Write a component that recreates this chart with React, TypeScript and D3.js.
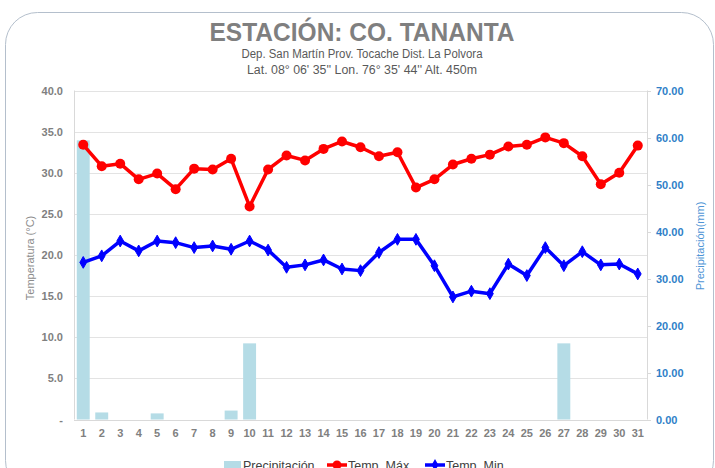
import React from "react";
import * as d3 from "d3";

const days = Array.from({ length: 31 }, (_, i) => String(i + 1));
const precip = [59.4, 1.5, 0, 0, 1.3, 0, 0, 0, 1.9, 16.2, 0, 0, 0, 0, 0, 0, 0, 0, 0, 0, 0, 0, 0, 0, 0, 0, 16.2, 0, 0, 0, 0];
const tmax = [33.4, 30.8, 31.1, 29.2, 29.9, 28.0, 30.5, 30.4, 31.7, 25.9, 30.4, 32.1, 31.5, 32.9, 33.8, 33.1, 32.0, 32.5, 28.2, 29.2, 31.0, 31.7, 32.2, 33.2, 33.4, 34.3, 33.6, 32.0, 28.6, 30.0, 33.3];
const tmin = [19.1, 19.9, 21.7, 20.5, 21.7, 21.5, 20.9, 21.1, 20.7, 21.7, 20.6, 18.5, 18.8, 19.4, 18.3, 18.1, 20.3, 21.9, 21.9, 18.7, 14.9, 15.6, 15.3, 18.9, 17.5, 20.9, 18.7, 20.4, 18.8, 18.9, 17.7];
const leftTicks = [0, 5, 10, 15, 20, 25, 30, 35, 40];
const rightTicks = [0, 10, 20, 30, 40, 50, 60, 70];

const title = "ESTACIÓN: CO. TANANTA";
const sub1 = "Dep. San Martín Prov. Tocache Dist. La Polvora";
const sub2 = "Lat. 08° 06' 35'' Lon. 76° 35' 44'' Alt. 450m";

export default function App() {
  const W = 715, H = 468;
  const x0 = 74, x1 = 647, yTop = 90.5, yBot = 419.5;
  const x = d3.scaleBand().domain(days).range([x0, x1]).paddingInner(0.3).paddingOuter(0.15);
  const xc = (d: string) => (x(d) as number) + x.bandwidth() / 2;
  const yL = d3.scaleLinear().domain([0, 40]).range([yBot, yTop]);
  const yR = d3.scaleLinear().domain([0, 70]).range([yBot, yTop]);
  const line = d3.line<number>().x((_, i) => xc(days[i])).y((v) => yL(v));
  const diamond = d3.symbol().type(d3.symbolDiamond).size(40)() as string;
  const font = "Liberation Sans, Arial, sans-serif";
  const barColor = "#b5dce6";

  return (
    <svg width={W} height={H} style={{ position: "absolute", left: 0, top: 0, background: "#fff" }} fontFamily={font}>
      <rect x={5.5} y={12.5} width={708} height={480} rx={32} ry={32} fill="#fff" stroke="#b4bfcc" strokeWidth={1} />
      <text x={362} y={41} textAnchor="middle" fontSize={26} fontWeight="bold" fill="#7f7f7f" textLength={305} lengthAdjust="spacingAndGlyphs"
        fontFamily="Liberation Sans Narrow, Arial Narrow, Liberation Sans, sans-serif">{title}</text>
      <text x={362} y={58} textAnchor="middle" fontSize={12} fill="#595959" textLength={241} lengthAdjust="spacingAndGlyphs">{sub1}</text>
      <text x={362} y={74} textAnchor="middle" fontSize={12} fill="#595959" textLength={230} lengthAdjust="spacingAndGlyphs">{sub2}</text>

      {leftTicks.map((t) => (
        <line key={"g" + t} x1={x0} x2={x1} y1={Math.round(yL(t)) + 0.5} y2={Math.round(yL(t)) + 0.5} stroke={t === 0 ? "#d9d9d9" : "#e3e3e3"} strokeWidth={1} />
      ))}
      <line x1={x0 + 0.5} x2={x0 + 0.5} y1={yTop} y2={yBot} stroke="#d9d9d9" />
      <line x1={x1 + 0.5} x2={x1 + 0.5} y1={yTop} y2={yBot} stroke="#d9d9d9" />
      {rightTicks.map((t) => (
        <line key={"rt" + t} x1={x1} x2={x1 + 4} y1={Math.round(yR(t)) + 0.5} y2={Math.round(yR(t)) + 0.5} stroke="#d9d9d9" />
      ))}

      {precip.map((v, i) => v > 0 ? (
        <rect key={"b" + i} x={x(days[i])} y={yR(v)} width={x.bandwidth()} height={yR(0) - yR(v)} fill={barColor} />
      ) : null)}

      <path d={line(tmax) as string} fill="none" stroke="#ff0000" strokeWidth={3.5} strokeLinejoin="round" />
      {tmax.map((v, i) => (
        <circle key={"c" + i} cx={xc(days[i])} cy={yL(v)} r={5} fill="#ff0000" />
      ))}
      <path d={line(tmin) as string} fill="none" stroke="#0000ff" strokeWidth={3.5} strokeLinejoin="round" />
      {tmin.map((v, i) => (
        <path key={"d" + i} d={diamond} transform={`translate(${xc(days[i])},${yL(v)})`} fill="#0000ff" stroke="#0000ff" strokeWidth={1} />
      ))}

      {leftTicks.map((t) => (
        <text key={"lt" + t} x={63} y={yL(t) + 4} textAnchor="end" fontSize={11} fontWeight="bold" fill="#808080">{t === 0 ? "-" : t.toFixed(1)}</text>
      ))}
      {rightTicks.map((t) => (
        <text key={"rl" + t} x={656} y={yR(t) + 4} textAnchor="start" fontSize={11} fontWeight="bold" fill="#2f7fc8">{t.toFixed(2)}</text>
      ))}
      {days.map((d) => (
        <text key={"x" + d} x={xc(d)} y={437} textAnchor="middle" fontSize={11} fontWeight="bold" fill="#808080">{d}</text>
      ))}

      <text transform={`translate(34,258) rotate(-90)`} textAnchor="middle" fontSize={11} fill="#8c8c8c">Temperatura (°C)</text>
      <text transform={`translate(704,246) rotate(-90)`} textAnchor="middle" fontSize={11} fill="#4f95d6">Precipitación(mm)</text>

      <rect x={224} y={461} width={17} height={10} fill={barColor} />
      <text x={243} y={470} fontSize={12.5} fill="#404040">Precipitación</text>
      <line x1={327} x2={347} y1={465} y2={465} stroke="#ff0000" strokeWidth={3.5} />
      <circle cx={337} cy={465} r={4.5} fill="#ff0000" />
      <text x={348} y={470} fontSize={12.5} fill="#404040">Temp. Máx.</text>
      <line x1={425} x2={445} y1={465} y2={465} stroke="#0000ff" strokeWidth={3.5} />
      <path d={diamond} transform="translate(435,465)" fill="#0000ff" />
      <text x={446} y={470} fontSize={12.5} fill="#404040">Temp. Min</text>
    </svg>
  );
}
